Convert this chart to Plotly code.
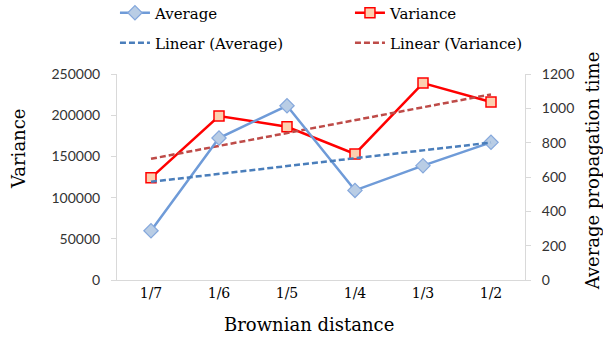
import numpy as np
import plotly.graph_objects as go

categories = ["1/7", "1/6", "1/5", "1/4", "1/3", "1/2"]
variance = [124000, 199000, 186000, 153000, 239000, 216000]
average = [287, 827, 1015, 522, 666, 802]
left_ticks = [0, 50000, 100000, 150000, 200000, 250000]
right_ticks = [0, 200, 400, 600, 800, 1000, 1200]

idx = np.arange(1, len(categories) + 1)
var_fit = np.polyval(np.polyfit(idx, variance, 1), idx)
avg_fit = np.polyval(np.polyfit(idx, average, 1), idx)

serif = "DejaVu Serif"
sans = "Lato"

fig = go.Figure()
fig.add_trace(go.Scatter(
    x=categories, y=average, name="Average", yaxis="y2", mode="lines+markers",
    line=dict(color="#6f9bd8", width=2.5),
    marker=dict(symbol="diamond", size=11, color="#b9cde5", line=dict(color="#85a8dc", width=1.2)),
    legend="legend"))
fig.add_trace(go.Scatter(
    x=categories, y=variance, name="Variance", yaxis="y", mode="lines+markers",
    line=dict(color="#ff0000", width=2.5),
    marker=dict(symbol="square", size=10, color="#fcd0b0", line=dict(color="#ff0000", width=1.5)),
    legend="legend"))
fig.add_trace(go.Scatter(
    x=categories, y=avg_fit, name="Linear (Average)", yaxis="y2", mode="lines",
    line=dict(color="#4a7ebb", width=2.5, dash="6px,3px"),
    legend="legend2"))
fig.add_trace(go.Scatter(
    x=categories, y=var_fit, name="Linear (Variance)", yaxis="y", mode="lines",
    line=dict(color="#be4b48", width=2.5, dash="6px,3px"),
    legend="legend2"))

fig.update_layout(
    width=603, height=339,
    margin=dict(l=117, r=78, t=74, b=59, autoexpand=False),
    paper_bgcolor="white", plot_bgcolor="white",
    showlegend=True,
    legend=dict(orientation="h", x=-0.005, xanchor="left", y=1.296, yanchor="middle",
                entrywidth=190, entrywidthmode="pixels",
                font=dict(family=serif, size=15, color="#000"), bgcolor="rgba(0,0,0,0)"),
    legend2=dict(orientation="h", x=-0.005, xanchor="left", y=1.15, yanchor="middle",
                 entrywidth=190, entrywidthmode="pixels",
                 font=dict(family=serif, size=15, color="#000"), bgcolor="rgba(0,0,0,0)"),
    xaxis=dict(type="category", categoryorder="array", categoryarray=categories,
               range=[-0.5, 5.5], showline=True, linecolor="#d9d9d9", linewidth=1,
               showgrid=False, zeroline=False, ticks="",
               tickfont=dict(family=serif, size=14, color="#000")),
    yaxis=dict(range=[0, 250000], tickvals=left_ticks, ticktext=[str(v) for v in left_ticks],
               showline=True, linecolor="#d9d9d9", linewidth=1, showgrid=False, zeroline=False,
               ticks="outside", ticklen=5, tickcolor="#d9d9d9", ticklabelstandoff=8,
               tickfont=dict(family=sans, size=14, color="#333")),
    yaxis2=dict(range=[0, 1200], tickvals=right_ticks, ticktext=[str(v) for v in right_ticks],
                overlaying="y", side="right",
                showline=True, linecolor="#d9d9d9", linewidth=1, showgrid=False, zeroline=False,
                ticks="outside", ticklen=5, tickcolor="#d9d9d9", ticklabelstandoff=8,
                tickfont=dict(family=sans, size=14, color="#333")),
    annotations=[
        dict(text="Variance", xref="paper", yref="paper", x=-0.240, y=0.636,
             textangle=-90, showarrow=False, xanchor="center", yanchor="middle",
             font=dict(family=serif, size=18, color="#000")),
        dict(text="Average propagation time", xref="paper", yref="paper", x=1.165, y=0.529,
             textangle=-90, showarrow=False, xanchor="center", yanchor="middle",
             font=dict(family=serif, size=18, color="#000")),
        dict(text="Brownian distance", xref="paper", yref="paper", x=0.4706, y=-0.218,
             showarrow=False, xanchor="center", yanchor="middle",
             font=dict(family=serif, size=18, color="#000")),
    ],
)

fig.write_html("out.html")
